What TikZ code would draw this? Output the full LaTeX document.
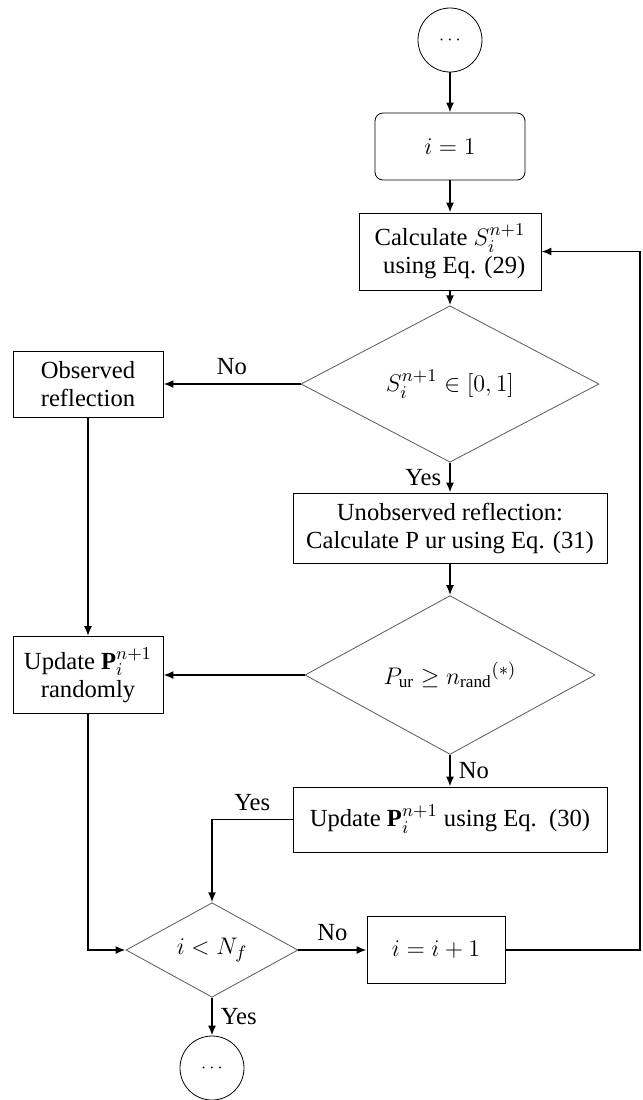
\documentclass[tikz,border=0pt]{standalone}
\usepackage{fontspec}
\setmainfont{Liberation Serif}
\usetikzlibrary{shapes.geometric, arrows.meta, positioning}

\begin{document}
\begin{tikzpicture}[x=1pt, y=1pt, >={Latex[length=5pt,width=4pt]}, font=\fontsize{12.3}{14}\selectfont]
\tikzstyle{term} = [draw, circle, thin, minimum size=32pt, inner sep=0pt]
\tikzstyle{box} = [draw, thin, rectangle, align=center, inner sep=2pt]
\tikzstyle{test} = [draw=black!65, thin, diamond, inner sep=0pt]
\tikzstyle{flow} = [line width=0.9pt, ->]
\tikzstyle{lbl} = [inner sep=4pt]

\useasboundingbox (0,0) rectangle (321.5,-550);

%main column
\node (start)[term] at (225,-20) {\small$\cdots$};
\node (init)[box, rounded corners=4pt, minimum width=75pt, minimum height=33.5pt, below of = start, node distance = 53.25pt] {$i=1$};
\node (calc)[box, align=right, minimum width=91pt, minimum height=38.5pt, below of = init, node distance = 52.5pt] {Calculate $S_i^{n+1}$\\using Eq. (29)};
\node (d1)[test, minimum width=149pt, minimum height=61pt, below of = calc, node distance = 66.25pt] {$S_i^{n+1}\in[0,1]$};
\node (unobs)[box, minimum width=157pt, minimum height=35pt, below of = d1, node distance = 72pt] {Unobserved reflection:\\Calculate P ur using Eq. (31)};
\node (d2)[test, minimum width=145pt, minimum height=58pt, below of = unobs, node distance = 73.5pt] {$P_{\mathrm{ur}}\geq n_{\mathrm{rand}}{}^{(*)}$};
\node (upd30)[box, minimum width=157pt, minimum height=32.5pt, below of = d2, node distance = 72.25pt] {Update $\mathbf{P}_i^{n+1}$ using Eq.~~(30)};

%left column
\node (obs)[box, minimum width=75pt, minimum height=33pt, left of = d1, node distance = 181pt] {Observed\\reflection};
\node (upd)[box, minimum width=75pt, minimum height=38.5pt, left of = d2, node distance = 181pt] {Update $\mathbf{P}_i^{n+1}$\\randomly};

%loop test
\node (d3)[test, minimum width=86pt, minimum height=36pt] at (106,-475) {$i<N_f$};
\node (inc)[box, minimum width=69pt, minimum height=33.5pt, right of = d3, node distance = 112pt] {$i=i+1$};
\node (stop)[term, below of = d3, node distance = 59pt] {\small$\cdots$};
\coordinate (rail) at (320,-125.75);

\draw [flow] (start) -- (init);
\draw [flow] (init) -- (calc);
\draw [flow] (calc) -- (d1);
\draw [flow] (d1) -- node[lbl, above] (no1) {No} (obs);
\draw [flow] (d1) -- node[lbl, left] (yes1) {Yes} (unobs);
\draw [flow] (unobs) -- (d2);
\draw [flow] (obs) -- (upd);
\draw [flow] (d2) -- (upd);
\draw [flow] (d2) -- node[lbl, right] (no2) {No} (upd30);
\draw [flow] (upd30) -| node[lbl, above, pos=0.25] (yes2) {Yes} (d3);
\draw [flow] (upd) |- (d3);
\draw [flow] (d3) -- node[lbl, above] (no3) {No} (inc);
\draw [flow] (d3) -- node[lbl, right] (yes3) {Yes} (stop);
\draw [flow] (inc) -| (rail) -- (calc);

\end{tikzpicture}
\end{document}
